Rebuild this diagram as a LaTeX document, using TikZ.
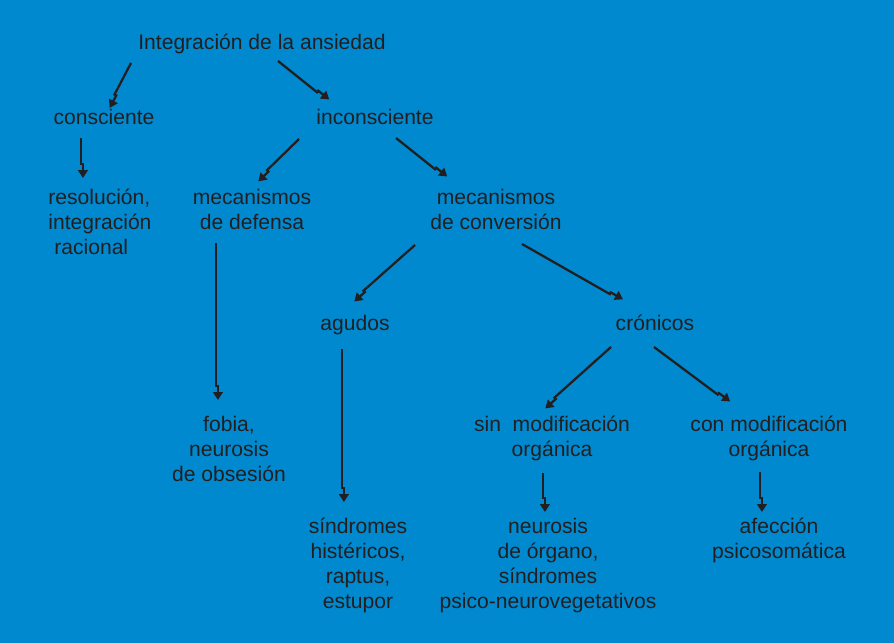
\documentclass[tikz,border=0pt]{standalone}
\usepackage{fontspec}
\setmainfont{Liberation Sans}
\usetikzlibrary{calc,arrows.meta}
\definecolor{fondo}{RGB}{0,137,207}
\definecolor{tinta}{RGB}{35,31,32}

\begin{document}
\begin{tikzpicture}[x=0.02cm,y=-0.02cm,
  txt/.style={anchor=base,align=center,text=tinta,inner sep=0pt,font=\fontsize{12}{14.23}\selectfont},
  flecha/.style={draw=tinta,line width=1.3pt,-{Triangle[length=4.5pt,width=5.5pt]},
    to path={let \p1=(\tikztostart),\p2=(\tikztotarget) in
      -- ($(\p2)!8pt!(\p1)$) -- ($(\p2)!8pt!(\p1)!1.1pt!90:(\p2)$) -- ($(\p2)!1.1pt!-90:(\p1)$)}}]
\fill[fondo] (0,0) rectangle (894,643);

% niveles del esquema (base = ultima linea)
\node[txt] (ansiedad) at (262,49) {Integración de la ansiedad};
\node[txt] (consc) at (104,124) {consciente};
\node[txt] (inconsc) at (375,124) {inconsciente};
\node[txt,anchor=base west,align=left] (resol) at (48,254) {resolución,\\integración\\\hspace*{0.12cm}racional};
\node[txt] (defensa) at (252,229) {mecanismos\\de defensa};
\node[txt] (conversion) at (496,229) {mecanismos\\de conversión};
\node[txt] (agudos) at (355,330) {agudos};
\node[txt] (cronicos) at (655,330) {crónicos};
\node[txt] (fobia) at (229,481) {fobia,\\neurosis\\de obsesión};
\node[txt] (sinmod) at (552,456) {sin\ \ modificación\\orgánica};
\node[txt] (conmod) at (769,456) {con modificación\\orgánica};
\node[txt] (histericos) at (358,608) {síndromes\\histéricos,\\raptus,\\estupor};
\node[txt] (organo) at (548,608) {neurosis\\de órgano,\\síndromes\\psico-neurovegetativos};
\node[txt] (psicosom) at (779,558) {afección\\psicosomática};

% flechas
\draw[flecha] ($(ansiedad.base)+(-131,14)$) to ($(consc.base)+(4,-17)$);
\draw[flecha] ($(ansiedad.base)+(16,12)$) to ($(inconsc.base)+(-47,-23)$);
\draw[flecha] ($(consc.base)+(-23,14)$) to ($(resol.base west)+(33,-76)$);
\draw[flecha] ($(inconsc.base)+(-76,15)$) to ($(defensa.base)+(5,-49)$);
\draw[flecha] ($(inconsc.base)+(21,14)$) to ($(conversion.base)+(-50,-51)$);
\draw[flecha] ($(conversion.base)+(-81,16)$) to ($(agudos.base)+(-2,-30)$);
\draw[flecha] ($(conversion.base)+(26,15)$) to ($(cronicos.base)+(-33,-29)$);
\draw[flecha] ($(cronicos.base)+(-44,17)$) to ($(sinmod.base)+(-8,-49)$);
\draw[flecha] ($(cronicos.base)+(-1,17)$) to ($(conmod.base)+(-40,-53)$);
\draw[flecha] ($(defensa.base)+(-36,14)$) to ($(fobia.base)+(-13,-81)$);
\draw[flecha] ($(agudos.base)+(-13,19)$) to ($(histericos.base)+(-16,-106)$);
\draw[flecha] ($(sinmod.base)+(-9,17)$) to ($(organo.base)+(-5,-96)$);
\draw[flecha] ($(conmod.base)+(-9,16)$) to ($(psicosom.base)+(-19,-46)$);
\end{tikzpicture}
\end{document}
